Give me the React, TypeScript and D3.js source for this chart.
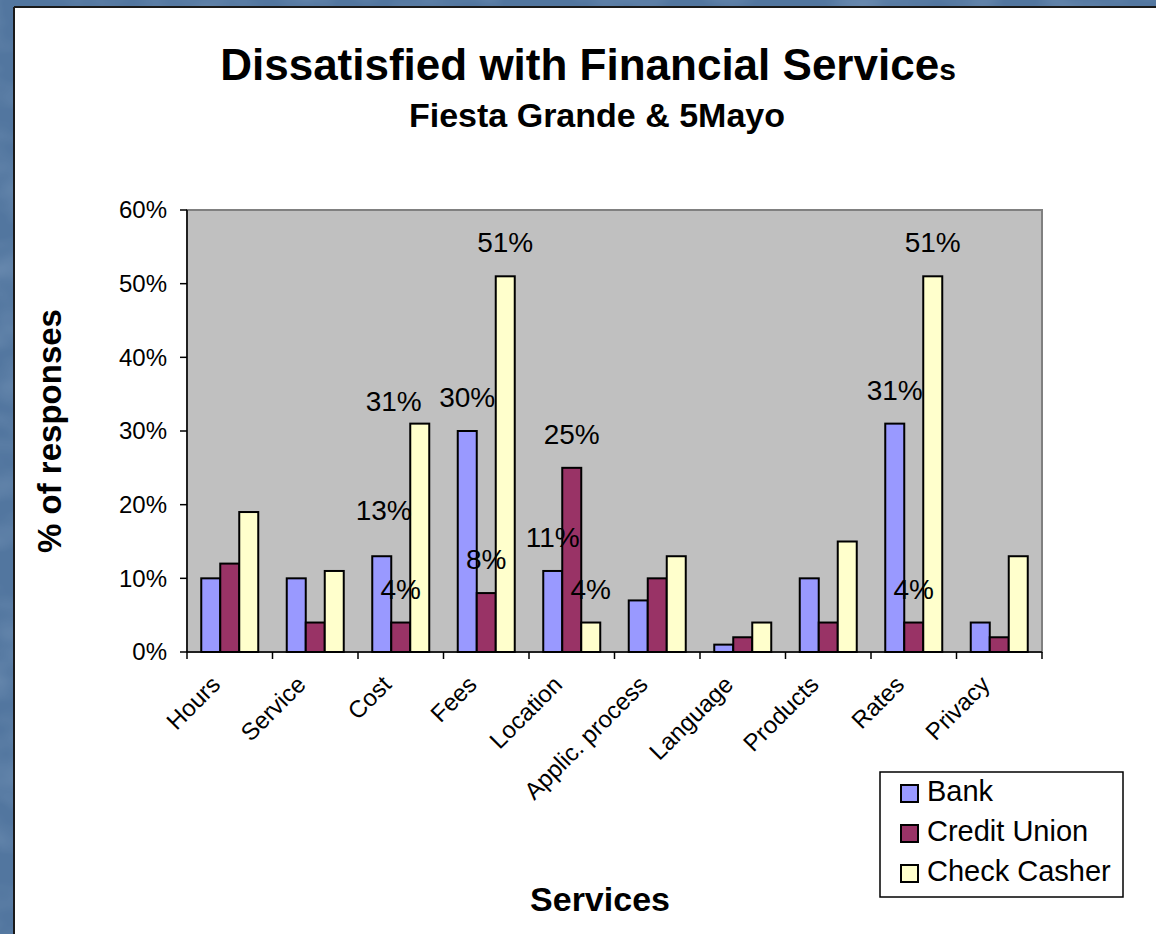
import React from "react";
import * as d3 from "d3";

// ---------- data ----------
const categories = [
  "Hours",
  "Service",
  "Cost",
  "Fees",
  "Location",
  "Applic. process",
  "Language",
  "Products",
  "Rates",
  "Privacy",
];
const seriesNames = ["Bank", "Credit Union", "Check Casher"];
const bankValues = [10, 10, 13, 30, 11, 7, 1, 10, 31, 4];
const creditUnionValues = [12, 4, 4, 8, 25, 10, 2, 4, 4, 2];
const checkCasherValues = [19, 11, 31, 51, 4, 13, 4, 15, 51, 13];
const yTickValues = [0, 10, 20, 30, 40, 50, 60];
const labeledCategories = ["Cost", "Fees", "Location", "Rates"];

// ---------- style ----------
const seriesColors = ["#9999ff", "#993366", "#ffffcc"];
const FONT = "'Liberation Sans', Arial, Helvetica, sans-serif";
const W = 1156;
const H = 934;
const plot = { left: 187, right: 1042, top: 210, bottom: 652 };
// manual nudges of a few data labels (as in the original slide)
const labelNudges: Record<string, [number, number]> = {
  "Cost|Bank": [2, -12],
  "Cost|Check Casher": [-26, 11],
};

export default function App() {
  const seriesValues = [bankValues, creditUnionValues, checkCasherValues];

  const x0 = d3
    .scaleBand<string>()
    .domain(categories)
    .range([plot.left, plot.right])
    .padding(0);
  const bw = x0.bandwidth();
  const x1 = d3
    .scaleBand<string>()
    .domain(seriesNames)
    .range([bw / 6, (bw * 5) / 6])
    .padding(0);
  const y = d3.scaleLinear().domain([0, 60]).range([plot.bottom, plot.top]);

  const bars: JSX.Element[] = [];
  const labels: JSX.Element[] = [];
  categories.forEach((c, ci) => {
    seriesNames.forEach((s, si) => {
      const v = seriesValues[si][ci];
      const bx = (x0(c) as number) + (x1(s) as number);
      const by = y(v);
      bars.push(
        <rect
          key={`b-${c}-${s}`}
          x={bx}
          y={by}
          width={x1.bandwidth()}
          height={y(0) - by}
          fill={seriesColors[si]}
          stroke="#000"
          strokeWidth={2}
        />
      );
      if (labeledCategories.includes(c)) {
        const n = labelNudges[`${c}|${s}`] || [0, 0];
        labels.push(
          <text
            key={`l-${c}-${s}`}
            x={bx + x1.bandwidth() / 2 + n[0]}
            y={by - 24 + n[1]}
            textAnchor="middle"
            fontSize={28}
            fontFamily={FONT}
            fill="#000"
          >
            {`${v}%`}
          </text>
        );
      }
    });
  });

  const catTicks = [...categories.map((c) => x0(c) as number), plot.right];

  const legendX = 880;
  const legendY = 772;

  return (
    <svg
      width={W}
      height={H}
      viewBox={`0 0 ${W} ${H}`}
      style={{ position: "fixed", left: 0, top: 0 }}
    >
      <defs>
        <filter id="mottle" x="0" y="0" width="100%" height="100%">
          <feTurbulence type="fractalNoise" baseFrequency="0.012 0.02" numOctaves={3} seed={4} />
          <feColorMatrix
            type="matrix"
            values="0 0 0 0 0.55  0 0 0 0 0.68  0 0 0 0 0.85  0 0 0 1.1 -0.45"
          />
        </filter>
      </defs>
      {/* blue slide background */}
      <rect x={0} y={0} width={W} height={H} fill="#52769f" />
      <rect x={0} y={0} width={W} height={H} filter="url(#mottle)" opacity={0.45} />
      {/* white panel */}
      <rect x={15} y={7} width={W} height={H} fill="#ffffff" />
      <line x1={14} y1={7} x2={W} y2={7} stroke="#1a1a1a" strokeWidth={2} />
      <line x1={14} y1={7} x2={14} y2={H} stroke="#1a1a1a" strokeWidth={2} />

      {/* titles */}
      <text x={588} y={80} textAnchor="middle" fontFamily={FONT} fontWeight="bold" fontSize={44} fill="#000">
        Dissatisfied with Financial Service
        <tspan fontSize={30}>s</tspan>
      </text>
      <text
        x={597}
        y={127}
        textAnchor="middle"
        fontFamily={FONT}
        fontWeight="bold"
        fontSize={34}
        fill="#000"
      >
        Fiesta Grande &amp; 5Mayo
      </text>

      {/* plot area */}
      <rect
        x={plot.left}
        y={plot.top}
        width={plot.right - plot.left}
        height={plot.bottom - plot.top}
        fill="#c0c0c0"
        stroke="#808080"
        strokeWidth={2}
      />
      {bars}
      {/* axes */}
      <line x1={plot.left} y1={plot.top} x2={plot.left} y2={plot.bottom} stroke="#000" strokeWidth={1.5} />
      <line x1={plot.left} y1={plot.bottom} x2={plot.right} y2={plot.bottom} stroke="#000" strokeWidth={1.5} />
      {yTickValues.map((t) => (
        <g key={`yt-${t}`}>
          <line x1={plot.left - 7} x2={plot.left} y1={y(t)} y2={y(t)} stroke="#000" strokeWidth={1.5} />
          <text
            x={167}
            y={y(t)}
            dy="0.35em"
            textAnchor="end"
            fontFamily={FONT}
            fontSize={24}
            fill="#000"
          >
            {`${t}%`}
          </text>
        </g>
      ))}
      {catTicks.map((tx, i) => (
        <line key={`xt-${i}`} x1={tx} x2={tx} y1={plot.bottom} y2={plot.bottom + 7} stroke="#000" strokeWidth={1.5} />
      ))}
      {categories.map((c) => {
        const cx = (x0(c) as number) + bw / 2 - 8;
        const cy = plot.bottom + 34;
        return (
          <text
            key={`xl-${c}`}
            transform={`translate(${cx},${cy}) rotate(-45)`}
            textAnchor="end"
            fontFamily={FONT}
            fontSize={24}
            fill="#000"
          >
            {c}
          </text>
        );
      })}
      {labels}

      {/* axis titles */}
      <text
        transform={`translate(61,431) rotate(-90)`}
        textAnchor="middle"
        fontFamily={FONT}
        fontWeight="bold"
        fontSize={33}
        fill="#000"
      >
        % of responses
      </text>
      <text x={600} y={911} textAnchor="middle" fontFamily={FONT} fontWeight="bold" fontSize={34} fill="#000">
        Services
      </text>

      {/* legend */}
      <rect x={legendX} y={legendY} width={243} height={125} fill="#fff" stroke="#000" strokeWidth={1.5} />
      {seriesNames.map((s, i) => (
        <g key={`lg-${s}`} transform={`translate(${legendX + 21},${legendY + 13 + i * 40})`}>
          <rect x={0} y={0} width={17} height={17} fill={seriesColors[i]} stroke="#000" strokeWidth={2} />
          <text x={26} y={16} fontFamily={FONT} fontSize={29} fill="#000">
            {s}
          </text>
        </g>
      ))}
    </svg>
  );
}
